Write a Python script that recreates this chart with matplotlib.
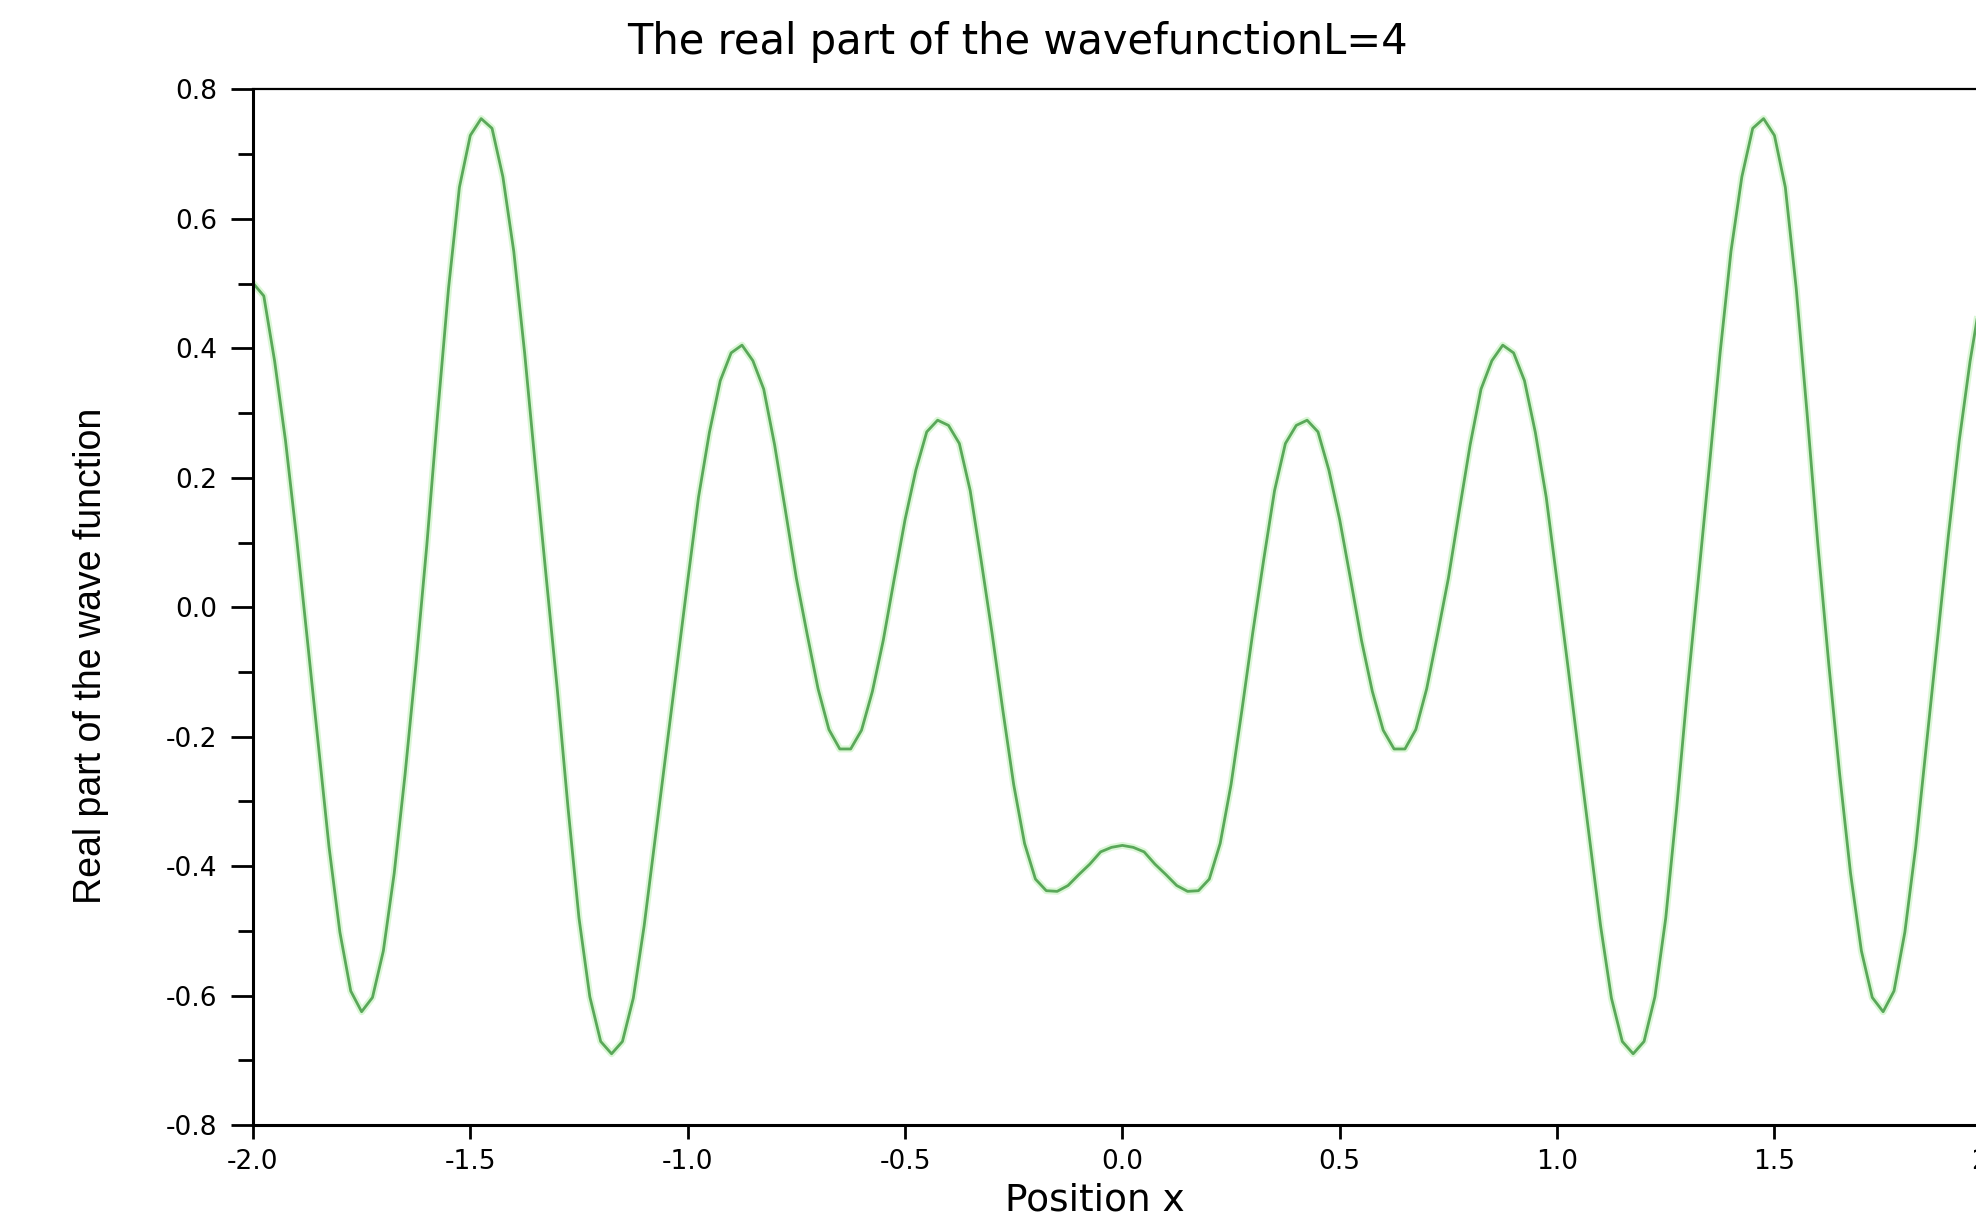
import numpy as np
import matplotlib
matplotlib.use('Agg')
from matplotlib import pyplot as plt
from matplotlib import font_manager
from matplotlib.ticker import MultipleLocator, FormatStrFormatter

# sampling positions along x (step 0.025 from -2 to 2)
position_x = np.linspace(-2.0, 2.0, 161)

# real part of the wave function
real_part = [
    0.501, 0.481, 0.380, 0.257, 0.110, -0.049, -0.210, -0.370, -0.502, -0.593,
    -0.625, -0.603, -0.531, -0.411, -0.258, -0.088, 0.096, 0.300, 0.493, 0.649,
    0.729, 0.755, 0.740, 0.665, 0.550, 0.393, 0.216, 0.044, -0.126, -0.311,
    -0.480, -0.602, -0.671, -0.690, -0.671, -0.604, -0.492, -0.359, -0.227, -0.092,
    0.040, 0.170, 0.270, 0.350, 0.393, 0.405, 0.381, 0.337, 0.251, 0.149,
    0.045, -0.042, -0.126, -0.189, -0.219, -0.219, -0.190, -0.130, -0.051, 0.043,
    0.135, 0.212, 0.271, 0.289, 0.281, 0.253, 0.180, 0.073, -0.039, -0.159,
    -0.274, -0.365, -0.420, -0.438, -0.439, -0.430, -0.413, -0.397, -0.378, -0.371,
    -0.368,
    -0.371, -0.378, -0.397, -0.413, -0.430, -0.439, -0.438, -0.420, -0.365, -0.274,
    -0.159, -0.039, 0.073, 0.180, 0.253, 0.281, 0.289, 0.271, 0.212, 0.135,
    0.043, -0.051, -0.130, -0.190, -0.219, -0.219, -0.189, -0.126, -0.042, 0.045,
    0.149, 0.251, 0.337, 0.381, 0.405, 0.393, 0.350, 0.270, 0.170, 0.040,
    -0.092, -0.227, -0.359, -0.492, -0.604, -0.671, -0.690, -0.671, -0.602, -0.480,
    -0.311, -0.126, 0.044, 0.216, 0.393, 0.550, 0.665, 0.740, 0.755, 0.729,
    0.649, 0.493, 0.300, 0.096, -0.088, -0.258, -0.411, -0.531, -0.603, -0.625,
    -0.593, -0.502, -0.370, -0.210, -0.049, 0.110, 0.257, 0.380, 0.481, 0.501,
]

x_ticks = [-2.0, -1.5, -1.0, -0.5, 0.0, 0.5, 1.0, 1.5, 2.0]
y_ticks = [-0.8, -0.6, -0.4, -0.2, 0.0, 0.2, 0.4, 0.6, 0.8]

title_text = 'The real part of the wavefunctionL=4'
x_label = 'Position x'
y_label = 'Real part of the wave function'

plt.rcParams['axes.unicode_minus'] = False
plt.rcParams['font.family'] = ['DejaVu Sans']

# narrow font for the y label if it is there
installed = {f.name for f in font_manager.fontManager.ttflist}
narrow_family = 'Liberation Sans Narrow' if 'Liberation Sans Narrow' in installed else 'Liberation Sans'

fig = plt.figure(figsize=(19.76, 12.26), dpi=100)
# the axes run a little past the right edge of the picture, as in the original
ax = fig.add_axes([0.128, 0.0824, 0.880, 0.8446])

# light halo + core line
ax.plot(position_x, real_part, color='#c4f2bc', linewidth=5, alpha=0.6,
        solid_joinstyle='round')
ax.plot(position_x, real_part, color='#5aa85a', linewidth=2.0, solid_joinstyle='round')

ax.set_xlim(-2.0, 2.0)
ax.set_ylim(-0.8, 0.8)

ax.set_xticks(x_ticks)
ax.set_yticks(y_ticks)
ax.yaxis.set_minor_locator(MultipleLocator(0.1))
ax.xaxis.set_major_formatter(FormatStrFormatter('%.1f'))
ax.yaxis.set_major_formatter(FormatStrFormatter('%.1f'))

ax.tick_params(axis='y', which='major', direction='out', length=16, width=2, pad=10, labelsize=19)
ax.tick_params(axis='y', which='minor', direction='out', length=11, width=2)
ax.tick_params(axis='x', which='major', direction='out', length=10, width=2, pad=7, labelsize=19)
ax.tick_params(axis='x', which='minor', length=0)

for side in ['left', 'bottom']:
    ax.spines[side].set_linewidth(2.2)
ax.spines['top'].set_linewidth(1.6)
ax.spines['right'].set_linewidth(1.6)

fig.text(0.515, 0.966, title_text, fontsize=30, ha='center', va='center')
fig.text(0.554, 0.021, x_label, fontsize=27, ha='center', va='center')
fig.text(0.046, 0.465, y_label, fontsize=27, family=narrow_family,
         rotation=90, ha='center', va='center')

fig.savefig('out.png', dpi=100, facecolor='white')
